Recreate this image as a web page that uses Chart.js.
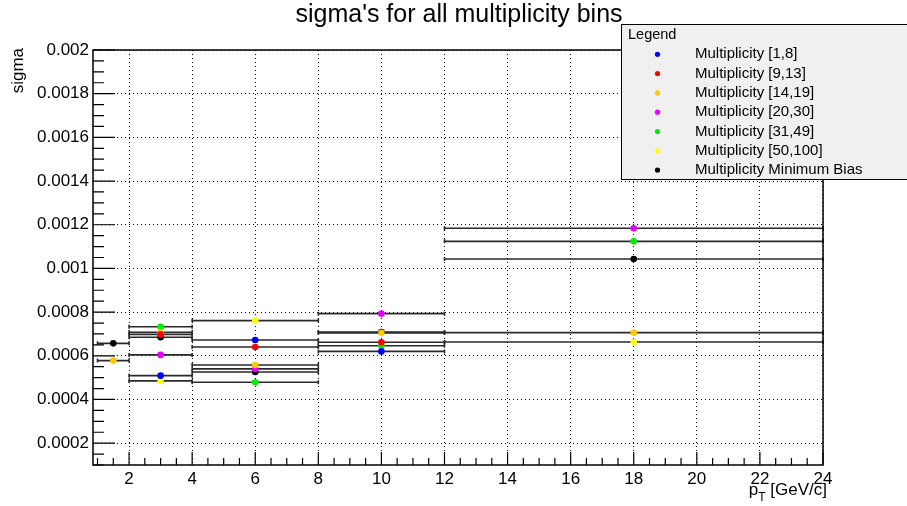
<!DOCTYPE html>
<html>
<head>
<meta charset="utf-8">
<script src="https://cdn.jsdelivr.net/npm/chart.js@4/dist/chart.umd.min.js"></script>
<style>
  html, body { margin: 0; padding: 0; background: #fff; }
  #wrap { width: 907px; height: 506px; }
</style>
</head>
<body>
<div id="wrap"><canvas id="c" width="907" height="506"></canvas></div>
<script>
// ---- data ----
const binLo = [1, 2, 4, 8, 12];
const binHi = [2, 4, 8, 12, 24];
const binCenter = [1.5, 3, 6, 10, 18];

const seriesLabels = ['Multiplicity [1,8]', 'Multiplicity [9,13]', 'Multiplicity [14,19]', 'Multiplicity [20,30]',
  'Multiplicity [31,49]', 'Multiplicity [50,100]', 'Multiplicity Minimum Bias'];
const seriesColors = ['#0000ff', '#ff0000', '#ffc800', '#e600ff', '#00ee00', '#ffff00', '#000000'];

const sigmaMult1to8    = [null, 0.000509, 0.000672, 0.000620, null];
const sigmaMult9to13   = [null, 0.000698, 0.000640, 0.000662, null];
const sigmaMult14to19  = [0.000578, 0.000708, 0.000558, 0.000705, 0.000706];
const sigmaMult20to30  = [null, 0.000604, 0.000540, 0.000793, 0.001184];
const sigmaMult31to49  = [null, 0.000733, 0.000479, 0.000646, 0.001124];
const sigmaMult50to100 = [null, 0.000485, 0.000761, null, 0.000663];
const sigmaMinBias     = [0.000657, 0.000685, 0.000526, 0.000709, 0.001043];

const seriesValues = [sigmaMult1to8, sigmaMult9to13, sigmaMult14to19, sigmaMult20to30,
  sigmaMult31to49, sigmaMult50to100, sigmaMinBias];

const xTicks = [2, 4, 6, 8, 10, 12, 14, 16, 18, 20, 22, 24];
const yTicks = [0.0002, 0.0004, 0.0006, 0.0008, 0.001, 0.0012, 0.0014, 0.0016, 0.0018, 0.002];
const yTickLabels = ['0.0002', '0.0004', '0.0006', '0.0008', '0.001', '0.0012', '0.0014', '0.0016', '0.0018', '0.002'];

const FONT = '"Liberation Sans", Arial, sans-serif';

const datasets = seriesValues.map((vals, s) => ({
  label: seriesLabels[s],
  data: vals.map((v, i) => v == null ? null : { x: binCenter[i], y: v, lo: binLo[i], hi: binHi[i] }).filter(p => p),
  backgroundColor: seriesColors[s],
  borderColor: seriesColors[s],
  borderWidth: 0,
  pointRadius: 3.3,
  pointHoverRadius: 3.3,
  showLine: false
}));

// horizontal bin-width bars (drawn under the markers)
const binBars = {
  id: 'binBars',
  beforeDatasetsDraw(chart) {
    const { ctx, scales: { x, y } } = chart;
    ctx.save();
    ctx.strokeStyle = '#2a2a2a';
    ctx.lineWidth = 1.6;
    chart.data.datasets.forEach(ds => {
      ds.data.forEach(p => {
        const x0 = x.getPixelForValue(p.lo), x1 = x.getPixelForValue(p.hi), py = y.getPixelForValue(p.y);
        ctx.beginPath();
        ctx.moveTo(x0, py); ctx.lineTo(x1, py);
        ctx.moveTo(x0, py - 2); ctx.lineTo(x0, py + 2);
        ctx.moveTo(x1, py - 2); ctx.lineTo(x1, py + 2);
        ctx.stroke();
      });
    });
    ctx.restore();
  }
};

// ROOT style frame, ticks, titles and legend box
const rootDecor = {
  id: 'rootDecor',
  afterDraw(chart) {
    const { ctx, chartArea: a, scales: { x, y } } = chart;
    ctx.save();
    ctx.strokeStyle = '#000';
    ctx.lineWidth = 1.5;
    ctx.strokeRect(a.left, a.top, a.right - a.left, a.bottom - a.top);

    // x ticks (every 0.5, major every 2)
    ctx.lineWidth = 1.2;
    ctx.beginPath();
    for (let v = 1; v <= 24.001; v += 0.5) {
      const px = x.getPixelForValue(v);
      const len = (Math.abs(v / 2 - Math.round(v / 2)) < 1e-6) ? 13 : 7;
      ctx.moveTo(px, a.bottom); ctx.lineTo(px, a.bottom - len);
    }
    // y ticks (every 0.00005, major every 0.0002)
    for (let k = 2; k <= 40; k++) {
      const v = k * 0.00005;
      const py = y.getPixelForValue(v);
      const len = (k % 4 === 0) ? 22 : 11;
      ctx.moveTo(a.left, py); ctx.lineTo(a.left + len, py);
    }
    ctx.stroke();

    ctx.fillStyle = '#000';
    // title
    ctx.font = '25px ' + FONT;
    ctx.textAlign = 'center';
    ctx.textBaseline = 'alphabetic';
    ctx.fillText("sigma's for all multiplicity bins", 459, 22);

    // y title
    ctx.save();
    ctx.translate(23, a.top - 2);
    ctx.rotate(-Math.PI / 2);
    ctx.font = '17px ' + FONT;
    ctx.textAlign = 'right';
    ctx.fillText('sigma', 0, 0);
    ctx.restore();

    // x title p_T [GeV/c]
    ctx.font = '17px ' + FONT;
    ctx.textAlign = 'right';
    const rest = ' [GeV/c]';
    const wRest = ctx.measureText(rest).width;
    ctx.fillText(rest, a.right + 4, 495);
    ctx.font = '12px ' + FONT;
    const wT = ctx.measureText('T').width;
    ctx.fillText('T', a.right + 4 - wRest, 501);
    ctx.font = '17px ' + FONT;
    ctx.fillText('p', a.right + 4 - wRest - wT, 495);

    // legend box
    const lx = 621, ly = 24.5, lw = 300, lh = 155;
    ctx.fillStyle = '#f0f0f0';
    ctx.fillRect(lx, ly, lw, lh);
    ctx.strokeStyle = '#000';
    ctx.lineWidth = 1;
    ctx.strokeRect(lx + 0.5, ly, lw, lh);
    ctx.fillStyle = '#000';
    ctx.textAlign = 'left';
    ctx.textBaseline = 'middle';
    ctx.font = '14.5px ' + FONT;
    ctx.fillText('Legend', 628, 34.5);
    ctx.font = '15px ' + FONT;
    chart.data.datasets.forEach((ds, i) => {
      const ey = 54.3 + i * 19.3;
      ctx.fillStyle = ds.backgroundColor;
      ctx.beginPath();
      ctx.arc(657.5, ey, 2.6, 0, Math.PI * 2);
      ctx.fill();
      ctx.fillStyle = '#000';
      ctx.fillText(ds.label, 695, ey);
    });
    ctx.restore();
  }
};

new Chart(document.getElementById('c'), {
  type: 'scatter',
  data: { datasets },
  options: {
    responsive: false,
    animation: false,
    events: [],
    layout: { padding: { top: 50, right: 84, left: 0, bottom: 0 } },
    plugins: { legend: { display: false }, title: { display: false }, tooltip: { enabled: false } },
    scales: {
      x: {
        type: 'linear', min: 0.857, max: 24,
        afterBuildTicks: axis => { axis.ticks = xTicks.map(v => ({ value: v })); },
        afterFit: axis => { axis.height = 41; },
        grid: { color: '#000', lineWidth: 1, drawTicks: false },
        border: { display: false, dash: [1, 3] },
        ticks: { color: '#000', font: { family: FONT, size: 17 }, padding: 4, maxRotation: 0, autoSkip: false, callback: v => String(v) }
      },
      y: {
        type: 'linear', min: 0.0001, max: 0.002,
        afterBuildTicks: axis => { axis.ticks = yTicks.map(v => ({ value: v })); },
        afterFit: axis => { axis.width = 93; },
        grid: { color: '#000', lineWidth: 1, drawTicks: false },
        border: { display: false, dash: [1, 3] },
        ticks: { color: '#000', font: { family: FONT, size: 17 }, padding: 4, autoSkip: false,
          callback: (v, i) => yTickLabels[i] }
      }
    }
  },
  plugins: [binBars, rootDecor]
});
</script>
</body>
</html>
